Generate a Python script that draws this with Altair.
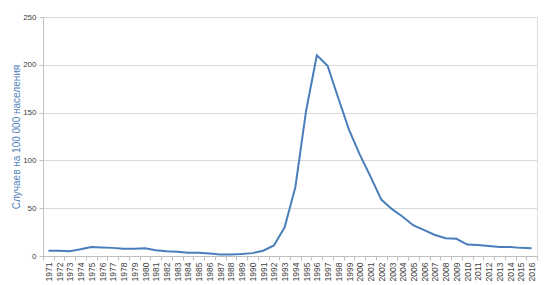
import altair as alt
import pandas as pd

years = [str(y) for y in range(1971, 2017)]
values = [5.5, 5.5, 5, 7, 9.5, 9, 8.5, 7.5, 7.5, 8, 6, 5, 4.5, 3.5, 3.5, 2.5, 1.5, 1.5, 2, 3,
          5.5, 11, 30, 72, 152, 210, 199, 165, 132, 106, 83, 59, 49, 41, 32, 27, 22, 18.5, 18,
          12, 11.5, 10.5, 9.5, 9.5, 8.5, 8]

df = pd.DataFrame({"year": years, "value": values})

chart = alt.Chart(df).mark_line(color="#4A7EBB", strokeWidth=2).encode(
    x=alt.X("year:O", scale=alt.Scale(type="band", paddingInner=0, paddingOuter=0),
            axis=alt.Axis(title=None, labelAngle=270, labelFontSize=8.5, labelColor="#404040",
                          labelFont="Liberation Sans", tickBand="extent", tickSize=4,
                          tickColor="#bfbfbf", domainColor="#bfbfbf", labelPadding=2,
                          grid=False)),
    y=alt.Y("value:Q", scale=alt.Scale(domain=[0, 250], nice=False),
            axis=alt.Axis(values=[0, 50, 100, 150, 200, 250], title="Случаев на 100 000 населения",
                          titleColor="#4F81BD", titleFontSize=10, titleFontWeight="normal",
                          titleFont="Liberation Sans", titlePadding=1,
                          labelFontSize=8, labelColor="#404040", labelFont="Liberation Sans",
                          gridColor="#d9d9d9", tickSize=4, tickColor="#bfbfbf",
                          domainColor="#bfbfbf", labelPadding=3)),
).properties(
    width=494, height=239,
    autosize=alt.AutoSizeParams(type="none"),
    padding={"left": 43, "top": 17, "right": 8, "bottom": 29},
).configure_view(stroke=None).configure(background="white")

chart.save("out.html", embed_options={"renderer": "svg", "actions": False})
